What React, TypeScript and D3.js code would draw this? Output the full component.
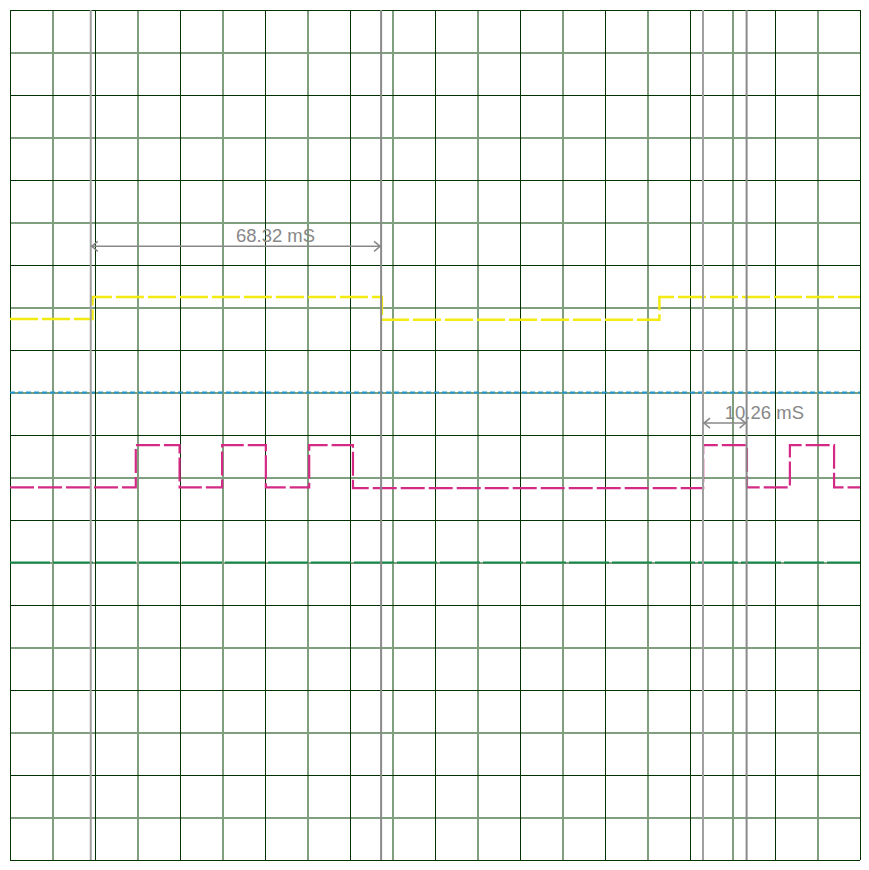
import React, { useEffect, useRef } from "react";
import * as d3 from "d3";

// time in ms (10 ms/div), level in divisions from screen centre
const gridDivs = d3.range(0, 21);

const yellowTrace = [
  { t: 0, v: 2.73 },
  { t: 19.4, v: 3.25 },
  { t: 87.5, v: 2.71 },
  { t: 152.8, v: 3.25 },
  { t: 200, v: 3.25 },
];

const blueTrace = [
  { t: 0, v: 1.0 },
  { t: 200, v: 1.0 },
];

const magentaTrace = [
  { t: 0, v: -1.23 },
  { t: 29.6, v: -0.24 },
  { t: 39.9, v: -1.23 },
  { t: 49.9, v: -0.24 },
  { t: 60.2, v: -1.23 },
  { t: 70.4, v: -0.24 },
  { t: 80.7, v: -1.25 },
  { t: 163.1, v: -0.24 },
  { t: 173.4, v: -1.23 },
  { t: 183.5, v: -0.24 },
  { t: 193.9, v: -1.23 },
  { t: 200, v: -1.23 },
];

const greenTrace = [
  { t: 0, v: -3.0 },
  { t: 200, v: -3.0 },
];

const cursors = [
  { t1: 19.0, t2: 87.32, label: "68.32 mS", level: 4.44 },
  { t1: 163.06, t2: 173.32, label: "10.26 mS", level: 0.28 },
];

const traces = [
  { data: yellowTrace, color: "#f2ea10", dash: "28,4", w: 2.5 },
  { data: blueTrace, color: "#2196cf", dash: "5,3", w: 2 },
  { data: magentaTrace, color: "#d42a86", dash: "24,4", w: 2.2 },
  { data: greenTrace, color: "#17894a", dash: "40,3", w: 2.2 },
];

const App = () => {
  const ref = useRef(null);
  const left = 10;
  const top = 10;
  const size = 850;

  useEffect(() => {
    const svg = d3.select(ref.current);
    svg.selectAll("*").remove();

    const x = d3.scaleLinear().domain([0, 200]).range([left, left + size]);
    const y = d3.scaleLinear().domain([-10, 10]).range([top + size, top]);
    const div = d3.scaleLinear().domain([0, 20]).range([left, left + size]);
    const divY = d3.scaleLinear().domain([0, 20]).range([top, top + size]);

    const grid = svg.append("g").attr("shape-rendering", "crispEdges");
    // light (odd) lines first, dark (even) lines on top
    const light = gridDivs.filter((d) => d % 2 === 1);
    const dark = gridDivs.filter((d) => d % 2 === 0);
    grid
      .selectAll(".lv")
      .data(light)
      .enter()
      .append("line")
      .attr("x1", (d) => div(d))
      .attr("x2", (d) => div(d))
      .attr("y1", top)
      .attr("y2", top + size)
      .attr("stroke", "#7f9f7f")
      .attr("stroke-width", 2);
    grid
      .selectAll(".lh")
      .data(light)
      .enter()
      .append("line")
      .attr("y1", (d) => divY(d))
      .attr("y2", (d) => divY(d))
      .attr("x1", left)
      .attr("x2", left + size)
      .attr("stroke", "#7f9f7f")
      .attr("stroke-width", 2);
    grid
      .selectAll(".dv")
      .data(dark)
      .enter()
      .append("line")
      .attr("x1", (d) => div(d) + 0.5)
      .attr("x2", (d) => div(d) + 0.5)
      .attr("y1", top)
      .attr("y2", top + size)
      .attr("stroke", "#003300")
      .attr("stroke-width", 1);
    grid
      .selectAll(".dh")
      .data(dark)
      .enter()
      .append("line")
      .attr("y1", (d) => divY(d) + 0.5)
      .attr("y2", (d) => divY(d) + 0.5)
      .attr("x1", left)
      .attr("x2", left + size)
      .attr("stroke", "#003300")
      .attr("stroke-width", 1);

    const line = d3
      .line<{ t: number; v: number }>()
      .x((d) => x(d.t))
      .y((d) => y(d.v))
      .curve(d3.curveStepAfter);

    traces.forEach((tr) => {
      svg
        .append("path")
        .datum(tr.data)
        .attr("d", line)
        .attr("fill", "none")
        .attr("stroke", tr.color)
        .attr("stroke-width", tr.w)
        .attr("stroke-dasharray", tr.dash);
    });

    cursors.forEach((c) => {
      const x1 = x(c.t1);
      const x2 = x(c.t2);
      svg
        .append("line")
        .attr("x1", x1)
        .attr("x2", x1)
        .attr("y1", top)
        .attr("y2", top + size)
        .attr("stroke", "#a0a0a0")
        .attr("stroke-width", 2);
      svg
        .append("line")
        .attr("x1", x2)
        .attr("x2", x2)
        .attr("y1", top)
        .attr("y2", top + size)
        .attr("stroke", "#8a8a8a")
        .attr("stroke-width", 2);

      const ay = y(c.level);
      svg
        .append("line")
        .attr("x1", x1)
        .attr("x2", x2)
        .attr("y1", ay)
        .attr("y2", ay)
        .attr("stroke", "#888")
        .attr("stroke-width", 1.5);
      svg
        .append("path")
        .attr("d", `M${x1 + 7},${ay - 5}L${x1 + 1},${ay}L${x1 + 7},${ay + 5}`)
        .attr("fill", "none")
        .attr("stroke", "#888")
        .attr("stroke-width", 1.5);
      svg
        .append("path")
        .attr("d", `M${x2 - 7},${ay - 5}L${x2 - 1},${ay}L${x2 - 7},${ay + 5}`)
        .attr("fill", "none")
        .attr("stroke", "#888")
        .attr("stroke-width", 1.5);
      svg
        .append("text")
        .attr("x", (x1 + x2) / 2)
        .attr("y", ay - 4)
        .attr("font-family", "Liberation Sans, Arial, sans-serif")
        .attr("font-size", 18.5)
        .attr("fill", "#888")
        .text(c.label);
    });
  }, []);

  return (
    <svg
      ref={ref}
      width={869}
      height={870}
      style={{ position: "absolute", left: 0, top: 0, background: "#fff" }}
    />
  );
};

export default App;
